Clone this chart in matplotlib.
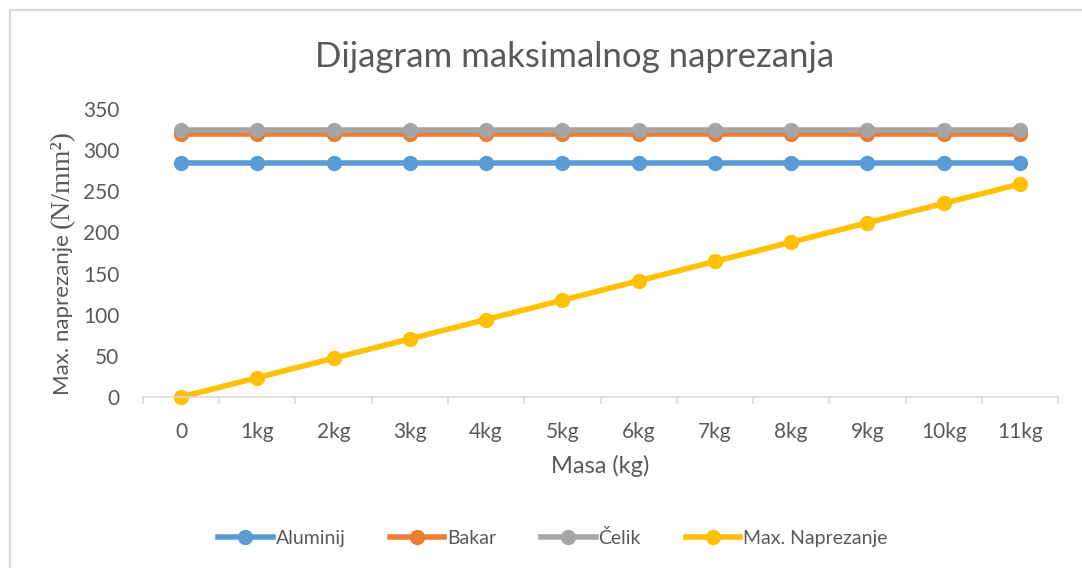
import numpy as np
import matplotlib.pyplot as plt
from matplotlib.patches import Rectangle
from matplotlib.lines import Line2D

masa = ['0', '1kg', '2kg', '3kg', '4kg', '5kg', '6kg', '7kg', '8kg', '9kg', '10kg', '11kg']
aluminij = [285] * 12
bakar = [320] * 12
celik = [325] * 12
max_naprezanje = [0, 23.5, 47.1, 70.6, 94.2, 117.7, 141.2, 164.8, 188.3, 211.9, 235.4, 258.9]

siva = '#595959'
plt.rcParams['font.family'] = ['Lato', 'DejaVu Sans']

fig = plt.figure(figsize=(10.82, 5.68), dpi=100)
ax = fig.add_axes([0.132, 0.301, 0.846, 0.507])

x = np.arange(len(masa))
serije = [
    (aluminij, '#5b9bd5', 'Aluminij'),
    (bakar, '#ed7d31', 'Bakar'),
    (celik, '#a5a5a5', 'Čelik'),
    (max_naprezanje, '#ffc000', 'Max. Naprezanje'),
]
for y, boja, ime in serije:
    ax.plot(x, y, color=boja, lw=4, marker='o', ms=10, label=ime,
            solid_capstyle='round', clip_on=False)

ax.set_xlim(-0.5, len(masa) - 0.5)
ax.set_ylim(0, 350)
ax.set_yticks(range(0, 351, 50))
ax.set_xticks(x)
ax.set_xticklabels(masa)
ax.tick_params(axis='both', labelsize=15, colors=siva, length=0)
ax.tick_params(axis='x', pad=18)
ax.tick_params(axis='y', pad=17)

# kvacice izmedju kategorija
for xb in np.arange(-0.5, len(masa), 1.0):
    ax.plot([xb, xb], [0, -0.022], transform=ax.get_xaxis_transform(),
            color='#d9d9d9', lw=1.2, clip_on=False)

for s in ['top', 'right', 'left']:
    ax.spines[s].set_visible(False)
ax.spines['bottom'].set_color('#d9d9d9')
ax.spines['bottom'].set_linewidth(1.2)

ax.set_xlabel('Masa (kg)', fontsize=17, color=siva, labelpad=9)

fig.text(0.531, 0.9, 'Dijagram maksimalnog naprezanja', fontsize=25,
         color=siva, ha='center', va='center')

# oznaka y osi: dio u sans, dio u serif fontu
fig.text(0.058, 1 - 395 / 568, 'Max. naprezanje', rotation=90, fontsize=16,
         color=siva, ha='center', va='bottom')
fig.text(0.058, 1 - 228 / 568, '(N/mm²)', rotation=90, fontsize=20,
         color=siva, ha='center', va='bottom', family='Liberation Serif')

handles = [Line2D([0], [0], color=b, lw=4, marker='o', ms=10) for _, b, _ in serije]
fig.legend(handles, [i for _, _, i in serije], loc='center',
           bbox_to_anchor=(0.511, 0.053), ncol=4, frameon=False,
           fontsize=14, handlelength=2.8, handletextpad=0.15,
           columnspacing=2.3, labelcolor=siva)

fig.patches.append(Rectangle((0.0095, -0.1), 1.2, 1.082, transform=fig.transFigure,
                             fill=False, edgecolor='#d9d9d9', lw=1.5))

fig.savefig('out.png', dpi=100)
